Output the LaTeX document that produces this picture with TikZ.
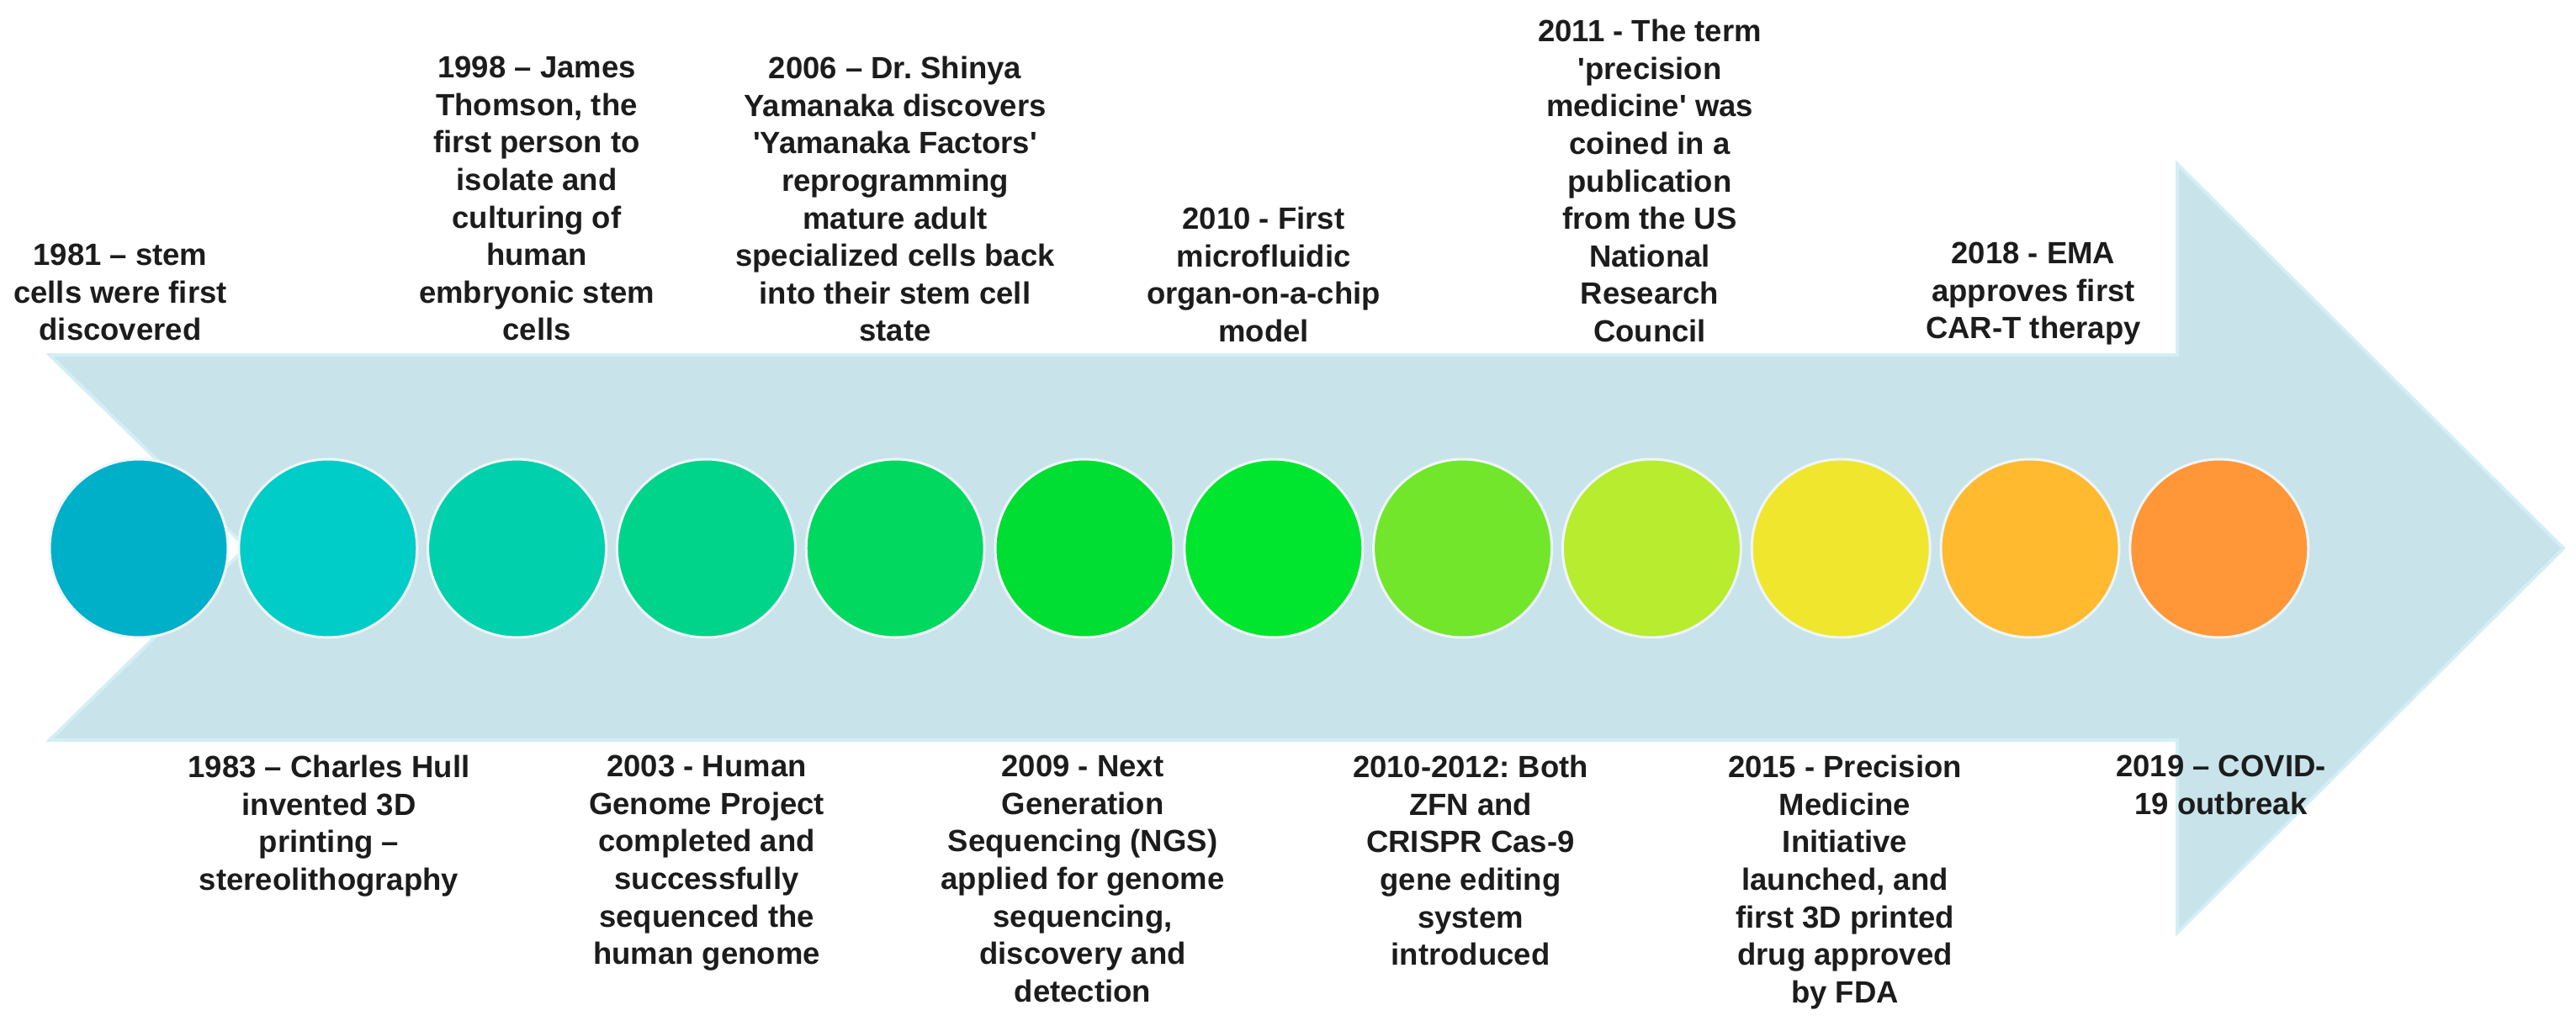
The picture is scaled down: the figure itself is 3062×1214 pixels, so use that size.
\documentclass[tikz,border=0pt]{standalone}
\usepackage{fontspec}
\setmainfont{Liberation Sans}
\frenchspacing
\definecolor{arrowfill}{HTML}{C9E3EB}
\definecolor{arrowedge}{HTML}{D4EEF5}
\definecolor{ring}{HTML}{EEF6F9}
\definecolor{txt}{HTML}{1C1C1C}
\definecolor{k1}{HTML}{00AFC8}
\definecolor{k2}{HTML}{00CCC8}
\definecolor{k3}{HTML}{00D0AC}
\definecolor{k4}{HTML}{00D48A}
\definecolor{k5}{HTML}{00D860}
\definecolor{k6}{HTML}{00DD33}
\definecolor{k7}{HTML}{00E62E}
\definecolor{k8}{HTML}{72E62A}
\definecolor{k9}{HTML}{B8EC2E}
\definecolor{k10}{HTML}{F0E62E}
\definecolor{k11}{HTML}{FFBA30}
\definecolor{k12}{HTML}{FF9638}
\begin{document}
\begin{tikzpicture}[x=1pt,y=-1pt,
  dot/.style={circle, minimum size=212pt, inner sep=0pt, draw=ring, line width=3pt},
  lbl/.style={align=center, font=\fontsize{36.5}{44.6}\selectfont\bfseries, text=txt, inner sep=0pt, anchor=north}]
\useasboundingbox (0,0) rectangle (3062,1214);
% big notched arrow
\filldraw[fill=arrowfill, draw=arrowedge, line width=4pt, line join=miter]
  (59,422) -- (2588,422) -- (2588,195) -- (3047,652) -- (2588,1109) -- (2588,880) -- (59,880) -- (293,651) -- cycle;
% circles
\foreach \i in {1,...,12} {
  \node[dot, fill=k\i] (c\i) at ({165+(\i-1)*224.8},652) {};
}
% labels above
\node[lbl] (t1981) at (143,290) {1981 – stem\\cells were first\\discovered};
\node[lbl] (t1998) at (638,67) {1998 – James\\Thomson, the\\first person to\\isolate and\\culturing of\\human\\embryonic stem\\cells};
\node[lbl] (t2006) at (1064,67) {2006 – Dr. Shinya\\Yamanaka discovers\\\textquotesingle Yamanaka Factors\textquotesingle\\reprogramming\\mature adult\\specialized cells back\\into their stem cell\\state};
\node[lbl] (t2010) at (1502,246) {2010 - First\\microfluidic\\organ-on-a-chip\\model};
\node[lbl] (t2011) at (1961,23) {2011 - The term\\\textquotesingle precision\\medicine\textquotesingle{} was\\coined in a\\publication\\from the US\\National\\Research\\Council};
\node[lbl] (t2018) at (2417,288) {2018 - EMA\\approves first\\CAR-T therapy};
% labels below
\node[lbl] (t1983) at (391,898) {1983 – Charles Hull\\invented 3D\\printing –\\stereolithography};
\node[lbl] (t2003) at (840,898) {2003 - Human\\Genome Project\\completed and\\successfully\\sequenced the\\human genome};
\node[lbl] (t2009) at (1287,898) {2009 - Next\\Generation\\Sequencing (NGS)\\applied for genome\\sequencing,\\discovery and\\detection};
\node[lbl] (t2012) at (1748,898) {2010-2012: Both\\ZFN and\\CRISPR Cas-9\\gene editing\\system\\introduced};
\node[lbl] (t2015) at (2193,898) {2015 - Precision\\Medicine\\Initiative\\launched, and\\first 3D printed\\drug approved\\by FDA};
\node[lbl] (t2019) at (2640,898) {2019 – COVID-\\19 outbreak};
\end{tikzpicture}
\end{document}
